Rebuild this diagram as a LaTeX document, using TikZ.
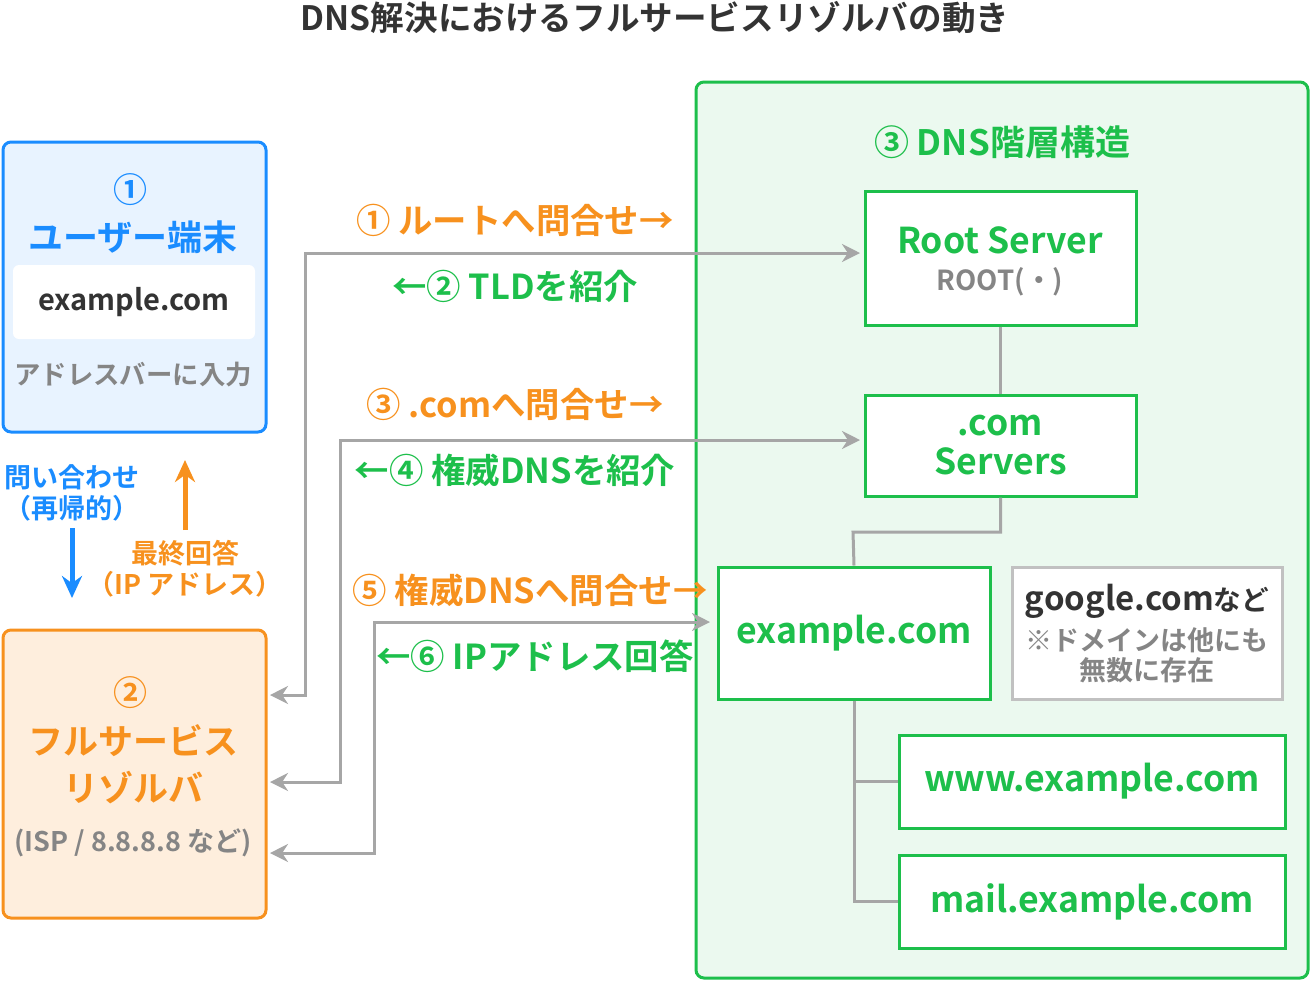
\documentclass[tikz,border=0pt]{standalone}
\usepackage{fontspec}
\setmainfont{Noto Sans CJK JP}[BoldFont={Noto Sans CJK JP Bold}]
\usetikzlibrary{positioning}
\usetikzlibrary{arrows.meta}
\definecolor{cblue}{HTML}{1A8CFF}
\definecolor{corange}{HTML}{F7911E}
\definecolor{cgreen}{HTML}{1DBF4B}
\definecolor{cgray}{HTML}{A6A6A6}
\definecolor{ctext}{HTML}{333333}
\tikzset{
    box/.style={draw, line width=1.5pt, rounded corners=4pt},
    srv/.style={draw=cgreen, fill=white, line width=1.5pt},
    txt/.style={font=\bfseries, inner sep=0pt, align=center},
    link/.style={draw=cgray, line width=1.5pt},
    query/.style={link, <->, >={Stealth[length=9pt,width=9pt]}},
}
\begin{document}
\begin{tikzpicture}[x=0.5pt,y=-0.5pt]
    \useasboundingbox (0,0) rectangle (1310,981);
    \node[txt, text=ctext, font=\bfseries\fontsize{16.8}{18}\selectfont] (title) at (655,18) {DNS解決におけるフルサービスリゾルバの動き};
    % user terminal
    \draw[box, draw=cblue, fill=cblue!10] (3,142) rectangle (266,432);
    \node[txt, text=cblue, font=\bfseries\fontsize{17}{18}\selectfont] (un) at (130,190) {①};
    \node[txt, text=cblue, font=\bfseries\fontsize{17.5}{18}\selectfont] (ut) at (133,237) {ユーザー端末};
    \node[fill=white, rounded corners=3pt, minimum width=121pt, minimum height=37pt] (ubar) at (134,302) {};
    \node[txt, text=ctext, font=\bfseries\fontsize{14.5}{16}\selectfont] (uex) at (134,302) {example.com};
    \node[txt, text=cgray!80!black, font=\bfseries\fontsize{13.2}{15}\selectfont] (uin) at (133,375) {アドレスバーに入力};
    % recursion arrows
    \node[txt, text=cblue, font=\bfseries\fontsize{13.5}{15.5}\selectfont] (rq) at (72,493) {問い合わせ\\（再帰的）};
    \node[txt, text=corange, font=\bfseries\fontsize{13.5}{15.5}\selectfont] (ra) at (185,569) {最終回答\\（IP アドレス）};
    \coordinate (qa) at (72,528); \coordinate (qb) at (72,598);
    \coordinate (aa) at (185,530); \coordinate (ab) at (185,460);
    \draw[cblue, line width=2.5pt, -{Stealth[length=11pt,width=10pt]}] (qa) -- (qb);
    \draw[corange, line width=2.5pt, -{Stealth[length=11pt,width=10pt]}] (aa) -- (ab);
    % full service resolver
    \draw[box, draw=corange, fill=corange!15] (3,630) rectangle (266,918);
    \node[txt, text=corange, font=\bfseries\fontsize{17}{18}\selectfont] (rn) at (130,693) {②};
    \node[txt, text=corange, font=\bfseries\fontsize{17.5}{23.5}\selectfont] (rt) at (133,764) {フルサービス\\リゾルバ};
    \node[txt, text=cgray!80!black, font=\bfseries\fontsize{13.5}{15}\selectfont] (risp) at (133,843) {(ISP / 8.8.8.8 など)};
    % DNS hierarchy
    \draw[box, draw=cgreen, fill=cgreen!9] (696,82) rectangle (1308,978);
    \node[txt, text=cgreen, font=\bfseries\fontsize{17.5}{18}\selectfont] (ht) at (1002,142) {③ DNS階層構造};
    \node[srv, minimum width=135.5pt, minimum height=67pt] (root) at (1000.5,258) {};
    \node[txt, text=cgreen, font=\bfseries\fontsize{17.8}{18}\selectfont] at (1000,240) {Root Server};
    \node[txt, text=cgray!80!black, font=\bfseries\fontsize{13.8}{15}\selectfont] at (1000,282) {ROOT(・)};
    \node[srv, minimum width=135.5pt, minimum height=50.5pt, txt, text=cgreen, font=\bfseries\fontsize{17.8}{19.5}\selectfont] (com) at (1000.5,445.5) {.com\\Servers};
    \node[srv, minimum width=136pt, minimum height=66pt, txt, text=cgreen, font=\bfseries\fontsize{17.8}{18}\selectfont] (ex) at (854,633) {example.com};
    \node[draw=cgray!70, fill=white, line width=1.5pt, minimum width=135pt, minimum height=66pt] (goo) at (1147,633) {};
    \node[txt, text=ctext, font=\bfseries\fontsize{16.5}{18}\selectfont] at (1147,601) {google.com{\fontsize{13.8}{15}\selectfont など}};
    \node[txt, text=cgray!80!black, font=\bfseries\fontsize{13.5}{15}\selectfont] at (1147,655) {※ドメインは他にも\\無数に存在};
    \node[srv, minimum width=193pt, minimum height=46.5pt, txt, text=cgreen, font=\bfseries\fontsize{17.8}{18}\selectfont] (www) at (1092,781.5) {www.example.com};
    \node[srv, minimum width=193pt, minimum height=46.5pt, txt, text=cgreen, font=\bfseries\fontsize{17.8}{18}\selectfont] (mail) at (1092,901.5) {mail.example.com};
    % tree
    \draw[link] (root) -- (com);
    \draw[link] (com.south) |- (853,532) -- (ex.north);
    \draw[link] (ex.south) |- (www.west);
    \draw[link] (ex.south) |- (mail.west);
    % queries
    \coordinate (r1) at (270,695); \coordinate (r2) at (270,782); \coordinate (r3) at (270,853);
    \coordinate (t1) at (860,253); \coordinate (t2) at (860,440); \coordinate (t3) at (710,622);
    \draw[query] (r1) -- (305,695) -- (305,253) -- (t1);
    \draw[query] (r2) -- (340,782) -- (340,440) -- (t2);
    \draw[query] (r3) -- (374,853) -- (374,622) -- (t3);
    \node[txt, text=corange, font=\bfseries\fontsize{17.2}{18}\selectfont] (q1) at (515,220) {① ルートへ問合せ→};
    \node[txt, text=cgreen, font=\bfseries\fontsize{17.2}{18}\selectfont] (a1) at (515,286) {←② TLDを紹介};
    \node[txt, text=corange, font=\bfseries\fontsize{17.2}{18}\selectfont] (q2) at (515,404) {③ .comへ問合せ→};
    \node[txt, text=cgreen, font=\bfseries\fontsize{17.2}{18}\selectfont] (a2) at (515,470) {←④ 権威DNSを紹介};
    \node[txt, text=corange, font=\bfseries\fontsize{17.2}{18}\selectfont] (q3) at (530,590) {⑤ 権威DNSへ問合せ→};
    \node[txt, text=cgreen, font=\bfseries\fontsize{17.2}{18}\selectfont] (a3) at (535,656) {←⑥ IPアドレス回答};
\end{tikzpicture}
\end{document}
